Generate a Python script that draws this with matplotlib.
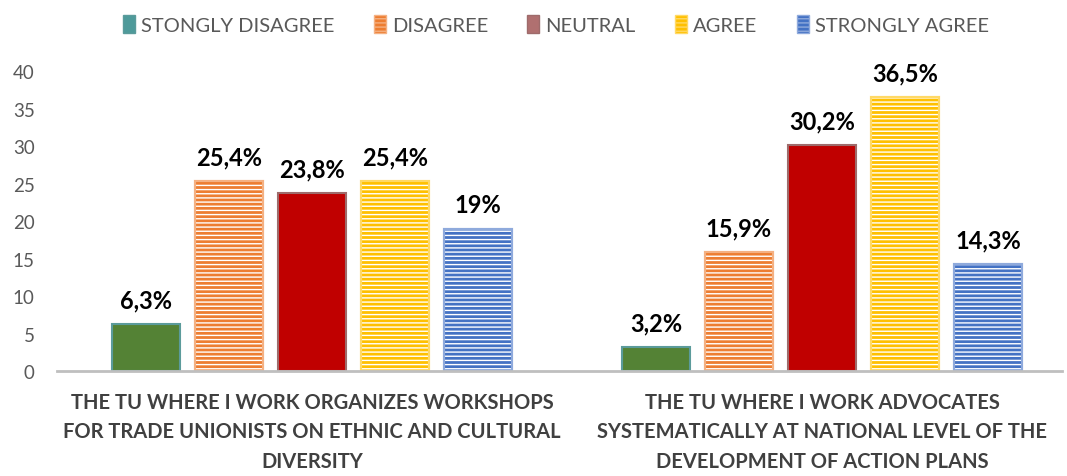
import matplotlib
matplotlib.use("Agg")
import matplotlib.pyplot as plt
from matplotlib.patches import Patch
import numpy as np

categories = [
    "THE TU WHERE I WORK ORGANIZES WORKSHOPS\nFOR TRADE UNIONISTS ON ETHNIC AND CULTURAL\nDIVERSITY",
    "THE TU WHERE I WORK ADVOCATES\nSYSTEMATICALLY AT NATIONAL LEVEL OF THE\nDEVELOPMENT OF ACTION PLANS",
]
series_names = ["STONGLY DISAGREE", "DISAGREE", "NEUTRAL", "AGREE", "STRONGLY AGREE"]
values = {
    "STONGLY DISAGREE": [6.3, 3.2],
    "DISAGREE": [25.4, 15.9],
    "NEUTRAL": [23.8, 30.2],
    "AGREE": [25.4, 36.5],
    "STRONGLY AGREE": [19.0, 14.3],
}
labels = {
    "STONGLY DISAGREE": ["6,3%", "3,2%"],
    "DISAGREE": ["25,4%", "15,9%"],
    "NEUTRAL": ["23,8%", "30,2%"],
    "AGREE": ["25,4%", "36,5%"],
    "STRONGLY AGREE": ["19%", "14,3%"],
}
yticks = [0, 5, 10, 15, 20, 25, 30, 35, 40]

face = ["#548235", "#ED7D31", "#C00000", "#FFC000", "#4472C4"]
edge = ["#5B9B9B", "#F4B183", "#9E6B6B", "#FFD966", "#8FAADC"]
hatched = [False, True, False, True, True]
legend_face = ["#4E9A9A", "#ED7D31", "#B07070", "#FFC000", "#4472C4"]

plt.rcParams['font.family'] = ['Lato', 'DejaVu Sans']
plt.rcParams['hatch.linewidth'] = 1.0

fig = plt.figure(figsize=(10.67, 4.77), dpi=100)
ax = fig.add_axes([0.0534, 0.220, 0.9416, 0.629])

x = np.arange(len(categories))
step = 0.1627
width = 0.133
for i, name in enumerate(series_names):
    pos = x + (i - 2) * step
    vals = values[name]
    ax.bar(pos, vals, width, color=face[i], edgecolor=edge[i], linewidth=1.5, zorder=2)
    if hatched[i]:
        ax.bar(pos, vals, width, facecolor='none', edgecolor='white', hatch='----', linewidth=0, zorder=3)
        ax.bar(pos, vals, width, facecolor='none', edgecolor=edge[i], linewidth=1.5, zorder=4)
    for p, v, lab in zip(pos, vals, labels[name]):
        ax.annotate(lab, (p, v), xytext=(0, 9), textcoords='offset points',
                    ha='center', va='bottom', fontsize=17, fontweight='bold', color='black')

ax.set_xlim(-0.5, 1.47)
ax.set_ylim(0, 40)
ax.set_yticks(yticks)
ax.tick_params(axis='y', length=0, labelsize=13.5, labelcolor='#595959', pad=16)
ax.set_xticks(x)
ax.set_xticklabels(categories, fontsize=14.5, fontweight='bold', color='#404040', linespacing=1.6)
ax.tick_params(axis='x', length=0, pad=15)
for s in ['left', 'right', 'top']:
    ax.spines[s].set_visible(False)
ax.spines['bottom'].set_color('#BFBFBF')
ax.spines['bottom'].set_linewidth(2)
ax.spines['bottom'].set_zorder(5)

handles = []
for i, name in enumerate(series_names):
    handles.append(Patch(facecolor=legend_face[i], edgecolor=edge[i],
                         hatch='----' if hatched[i] else None, label=name))
leg = fig.legend(handles=handles, loc='upper center', bbox_to_anchor=(0.521, 1.005), ncol=5,
                 frameon=False, fontsize=14.5, handlelength=0.6, handleheight=1.0,
                 handletextpad=0.3, columnspacing=1.95)
for t in leg.get_texts():
    t.set_color('#595959')

fig.savefig("out.png", dpi=100)
